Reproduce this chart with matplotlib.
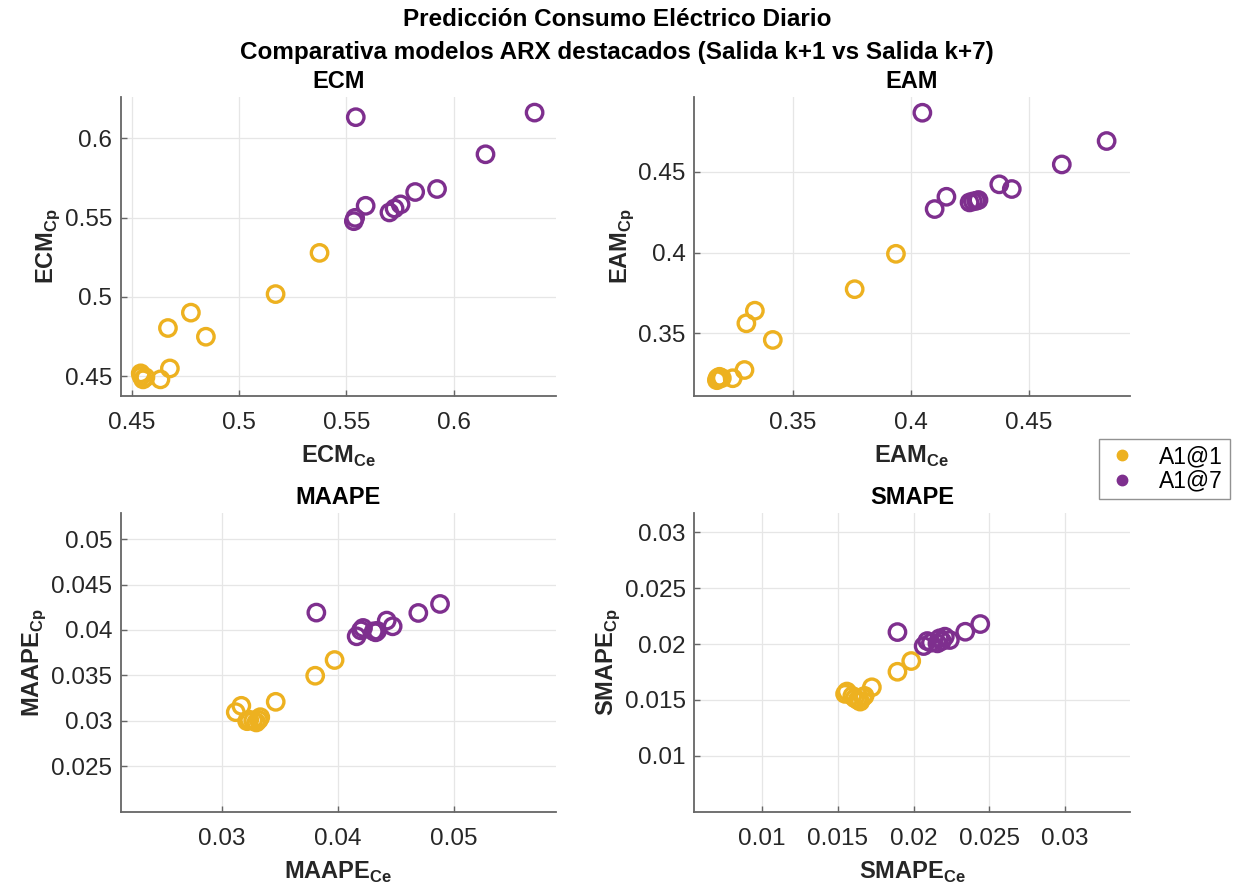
import matplotlib
matplotlib.use("Agg")
import matplotlib.pyplot as plt
from matplotlib.lines import Line2D
from matplotlib.ticker import FuncFormatter

plt.rcParams['font.family'] = ['Liberation Sans', 'DejaVu Sans']
plt.rcParams['mathtext.fontset'] = 'custom'
plt.rcParams['mathtext.rm'] = 'Liberation Sans'
plt.rcParams['mathtext.bf'] = 'Liberation Sans:bold'

# ---- data: error metrics on the two evaluation sets (Ce, Cp) ----
series_names = ['A1@1', 'A1@7']
series_colors = ['#EDB120', '#7E2F8E']

ecm_ce_k1 = [0.5375, 0.5170, 0.4775, 0.4668, 0.4845, 0.4677, 0.4633, 0.4544, 0.4552, 0.4563, 0.4541]
ecm_cp_k1 = [0.5277, 0.5017, 0.4900, 0.4803, 0.4748, 0.4548, 0.4479, 0.4500, 0.4479, 0.4492, 0.4517]
ecm_ce_k7 = [0.5544, 0.6378, 0.6149, 0.5923, 0.5821, 0.5753, 0.5725, 0.5701, 0.5590, 0.5541, 0.5535]
ecm_cp_k7 = [0.6133, 0.6162, 0.5899, 0.5680, 0.5661, 0.5583, 0.5557, 0.5532, 0.5574, 0.5498, 0.5477]

eam_ce_k1 = [0.3936, 0.3761, 0.3338, 0.3302, 0.3414, 0.3294, 0.3244, 0.3177, 0.3188, 0.3198, 0.3180]
eam_cp_k1 = [0.3992, 0.3773, 0.3640, 0.3562, 0.3459, 0.3273, 0.3222, 0.3210, 0.3231, 0.3223, 0.3223]
eam_ce_k7 = [0.4048, 0.4829, 0.4639, 0.4374, 0.4427, 0.4150, 0.4100, 0.4248, 0.4262, 0.4276, 0.4286]
eam_cp_k7 = [0.4865, 0.4690, 0.4545, 0.4422, 0.4393, 0.4345, 0.4269, 0.4310, 0.4316, 0.4320, 0.4325]

maape_ce_k1 = [0.03973, 0.03806, 0.03466, 0.03170, 0.03122, 0.03238, 0.03333, 0.03299, 0.03272, 0.03220, 0.03320]
maape_cp_k1 = [0.03669, 0.03496, 0.03209, 0.03165, 0.03095, 0.03011, 0.03040, 0.02982, 0.03004, 0.02996, 0.03010]
maape_ce_k7 = [0.03816, 0.04881, 0.04694, 0.04422, 0.04473, 0.04327, 0.04340, 0.04310, 0.04218, 0.04163, 0.04200]
maape_cp_k7 = [0.04191, 0.04286, 0.04187, 0.04103, 0.04040, 0.03974, 0.03990, 0.03985, 0.04022, 0.03930, 0.03995]

smape_ce_k1 = [0.01985, 0.01894, 0.01725, 0.01560, 0.01548, 0.01631, 0.01666, 0.01612, 0.01648, 0.01596, 0.01677]
smape_cp_k1 = [0.01848, 0.01752, 0.01613, 0.01575, 0.01554, 0.01500, 0.01524, 0.01515, 0.01485, 0.01536, 0.01536]
smape_ce_k7 = [0.01894, 0.02441, 0.02342, 0.02207, 0.02240, 0.02158, 0.02091, 0.02067, 0.02188, 0.02115, 0.02172]
smape_cp_k7 = [0.02107, 0.02179, 0.02110, 0.02066, 0.02036, 0.02006, 0.02027, 0.01982, 0.02027, 0.02012, 0.02051]

panels = [
    dict(name='ECM', ce=[ecm_ce_k1, ecm_ce_k7], cp=[ecm_cp_k1, ecm_cp_k7],
         xlim=(0.4447, 0.6478), ylim=(0.4376, 0.6262),
         xticks=[0.45, 0.5, 0.55, 0.6], yticks=[0.45, 0.5, 0.55, 0.6],
         pos=[0.0977, 0.5554, 0.3529, 0.3359]),
    dict(name='EAM', ce=[eam_ce_k1, eam_ce_k7], cp=[eam_cp_k1, eam_cp_k7],
         xlim=(0.308, 0.4928), ylim=(0.3114, 0.4964),
         xticks=[0.35, 0.4, 0.45], yticks=[0.35, 0.4, 0.45],
         pos=[0.5624, 0.5554, 0.3533, 0.3359]),
    dict(name='MAAPE', ce=[maape_ce_k1, maape_ce_k7], cp=[maape_cp_k1, maape_cp_k7],
         xlim=(0.0213, 0.0588), ylim=(0.0200, 0.0529),
         xticks=[0.03, 0.04, 0.05], yticks=[0.025, 0.03, 0.035, 0.04, 0.045, 0.05],
         pos=[0.0977, 0.0880, 0.3529, 0.3359]),
    dict(name='SMAPE', ce=[smape_ce_k1, smape_ce_k7], cp=[smape_cp_k1, smape_cp_k7],
         xlim=(0.0055, 0.0343), ylim=(0.0050, 0.03175),
         xticks=[0.01, 0.015, 0.02, 0.025, 0.03], yticks=[0.01, 0.015, 0.02, 0.025, 0.03],
         pos=[0.5624, 0.0880, 0.3533, 0.3359]),
]

fig = plt.figure(figsize=(12.34, 8.9), dpi=100)
fig.patch.set_facecolor('white')

axis_color = '#666666'
text_color = '#262626'
fmt = FuncFormatter(lambda v, p: ('%g' % round(v, 6)))

for pnl in panels:
    ax = fig.add_axes(pnl['pos'])
    for ce, cp, col in zip(pnl['ce'], pnl['cp'], series_colors):
        ax.scatter(ce, cp, s=140, facecolors='none', edgecolors=col, linewidths=2.4, zorder=3)
    ax.set_xlim(*pnl['xlim'])
    ax.set_ylim(*pnl['ylim'])
    ax.set_xticks(pnl['xticks'])
    ax.set_yticks(pnl['yticks'])
    ax.xaxis.set_major_formatter(fmt)
    ax.yaxis.set_major_formatter(fmt)
    ax.grid(True, color='#e6e6e6', linewidth=0.9, zorder=0)
    ax.set_axisbelow(True)
    for side in ('top', 'right'):
        ax.spines[side].set_visible(False)
    for side in ('left', 'bottom'):
        ax.spines[side].set_color(axis_color)
        ax.spines[side].set_linewidth(1.3)
    ax.tick_params(axis='both', direction='in', length=4, width=1, color=axis_color,
                   labelsize=17.5, labelcolor=text_color)
    ax.tick_params(axis='x', pad=12)
    ax.tick_params(axis='y', pad=6)
    name = pnl['name']
    ax.set_title(name, fontsize=17, fontweight='bold', pad=6)
    ax.set_xlabel(r'$\mathbf{%s}_{\mathbf{Ce}}$' % name, fontsize=17, labelpad=7, color=text_color)
    ax.set_ylabel(r'$\mathbf{%s}_{\mathbf{Cp}}$' % name, fontsize=17, labelpad=2, color=text_color)

fig.text(0.5, 1 - 20 / 890, 'Predicción Consumo Eléctrico Diario',
         ha='center', va='center', fontsize=17.5, fontweight='bold')
fig.text(0.5, 1 - 52 / 890, 'Comparativa modelos ARX destacados (Salida k+1 vs Salida k+7)',
         ha='center', va='center', fontsize=17.5, fontweight='bold')

handles = [Line2D([], [], linestyle='none', marker='o', markersize=7.5,
                  markerfacecolor=c, markeredgecolor=c) for c in series_colors]
leg = fig.legend(handles, series_names, loc='center',
                 bbox_to_anchor=(1164.5 / 1234, 1 - 469 / 890),
                 fontsize=16.5, frameon=True, fancybox=False, handlelength=1.4,
                 handletextpad=0.9, borderpad=0.3, labelspacing=0.05, borderaxespad=0)
leg.get_frame().set_edgecolor('#777777')
leg.get_frame().set_linewidth(1.0)

fig.savefig('out.png', dpi=100, facecolor='white')
